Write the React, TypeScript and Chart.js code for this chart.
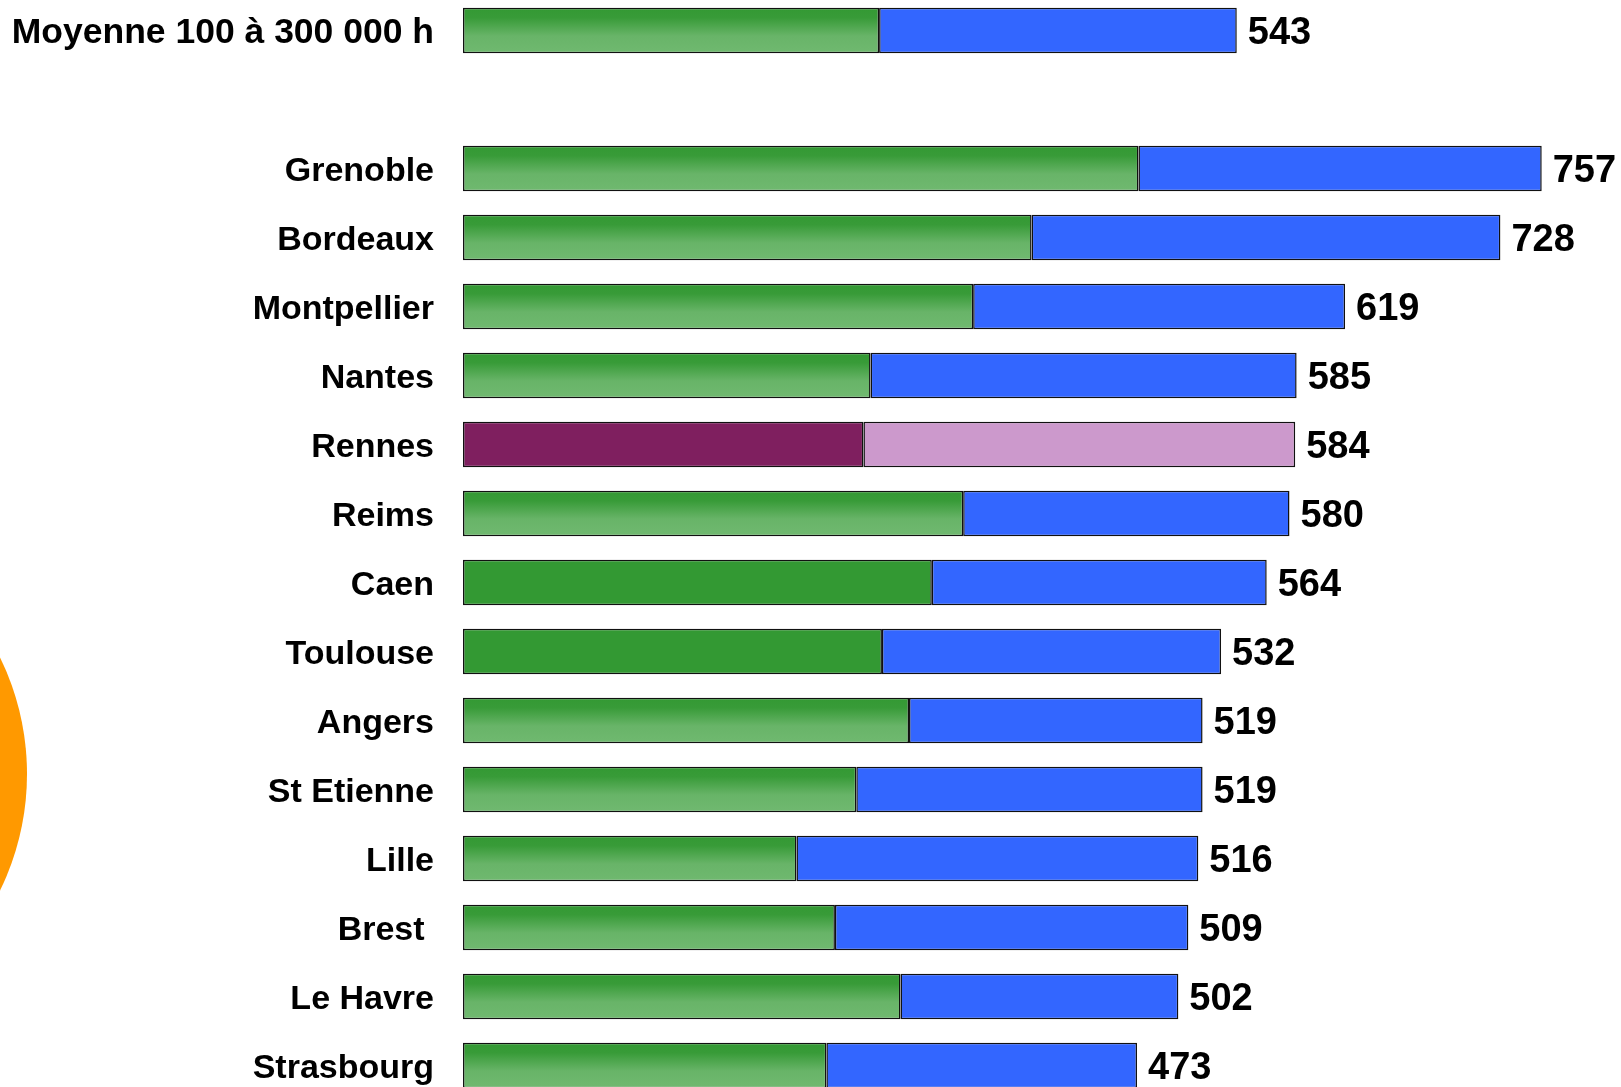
import React, { useEffect, useRef } from "react";
import { Chart, registerables } from "chart.js";

Chart.register(...registerables);

const categories = [
  "Moyenne 100 à 300 000 h",
  "",
  "Grenoble",
  "Bordeaux",
  "Montpellier",
  "Nantes",
  "Rennes",
  "Reims",
  "Caen",
  "Toulouse",
  "Angers",
  "St Etienne",
  "Lille",
  "Brest ",
  "Le Havre",
  "Strasbourg",
];

const part1 = [292, null, 474, 399, 358, 286, 281, 351, 329, 294, 313, 276, 234, 261, 307, 255];
const totals = [543, null, 757, 728, 619, 585, 584, 580, 564, 532, 519, 519, 516, 509, 502, 473];
const part2 = totals.map((t, i) => (t === null ? null : t - (part1[i] as number)));

// style kind per row: g = gradient green, s = solid green, r = Rennes highlight
const rowKind = ["g", "", "g", "g", "g", "g", "r", "g", "s", "s", "g", "g", "g", "g", "g", "g"];

const FONT = "'Liberation Sans', Arial, sans-serif";

export default function App() {
  const ref = useRef<HTMLCanvasElement | null>(null);

  useEffect(() => {
    if (!ref.current) return;
    const barH = 69 * 0.66;

    const firstColor = (ctx: any) => {
      const i = ctx.dataIndex;
      const kind = rowKind[i];
      if (kind === "r") return "#7f1f5f";
      if (kind === "s") return "#339933";
      const chart = ctx.chart;
      const ys = chart.scales && chart.scales.y;
      if (!chart.chartArea || !ys) return "#4fa84f";
      const yc = ys.getPixelForValue(i);
      const g = chart.ctx.createLinearGradient(0, yc - barH / 2, 0, yc + barH / 2);
      g.addColorStop(0, "#339933");
      g.addColorStop(0.22, "#389b38");
      g.addColorStop(0.62, "#68b468");
      g.addColorStop(1, "#70b970");
      return g;
    };
    const secondColor = (ctx: any) => (rowKind[ctx.dataIndex] === "r" ? "#cc99cc" : "#3366ff");

    const totalLabels = {
      id: "totalLabels",
      afterDatasetsDraw(chart: any) {
        const c = chart.ctx;
        const xs = chart.scales.x;
        const ys = chart.scales.y;
        c.save();
        c.font = `bold 38px ${FONT}`;
        c.fillStyle = "#000";
        c.textAlign = "left";
        c.textBaseline = "middle";
        totals.forEach((t, i) => {
          if (t === null) return;
          c.fillText(String(t), xs.getPixelForValue(t) + 11, ys.getPixelForValue(i) + 3);
        });
        c.restore();
      },
    };

    const chart = new Chart(ref.current, {
      type: "bar",
      data: {
        labels: categories,
        datasets: [
          {
            data: part1 as any,
            backgroundColor: firstColor as any,
            borderColor: "#111111",
            borderWidth: 1.5,
            borderSkipped: false,
            categoryPercentage: 1,
            barPercentage: 0.66,
          },
          {
            data: part2 as any,
            backgroundColor: secondColor as any,
            borderColor: "#111111",
            borderWidth: 1.5,
            borderSkipped: false,
            categoryPercentage: 1,
            barPercentage: 0.66,
          },
        ],
      },
      options: {
        indexAxis: "y",
        animation: false,
        responsive: false,
        maintainAspectRatio: false,
        layout: { padding: { left: 0, right: 18, top: 0, bottom: 0 } },
        plugins: {
          legend: { display: false },
          tooltip: { enabled: false },
        },
        scales: {
          x: {
            stacked: true,
            min: 0,
            max: 800,
            display: false,
          },
          y: {
            stacked: true,
            grid: { display: false, drawTicks: false },
            border: { display: false },
            ticks: {
              color: "#000",
              padding: 29,
              labelOffset: 3,
              font: ((c: any) => ({
                family: FONT,
                size: c.index === 0 ? 35.5 : 34,
                weight: "bold",
              })) as any,
              autoSkip: false,
            },
            afterFit(scale: any) {
              scale.width = 463;
              scale.paddingTop = 0;
              scale.paddingBottom = 0;
            },
          },
        },
      },
      plugins: [totalLabels],
    });
    return () => chart.destroy();
  }, []);

  return (
    <div
      style={{
        position: "fixed",
        left: 0,
        top: 0,
        width: 1621,
        height: 1087,
        overflow: "hidden",
        background: "#fff",
      }}
    >
      <div
        style={{
          position: "absolute",
          left: -503,
          top: 509,
          width: 530,
          height: 530,
          borderRadius: "50%",
          background: "#ff9900",
        }}
      />
      <canvas
        ref={ref}
        width={1621}
        height={1104}
        style={{ position: "absolute", left: 0, top: -4, width: 1621, height: 1104 }}
      />
    </div>
  );
}
